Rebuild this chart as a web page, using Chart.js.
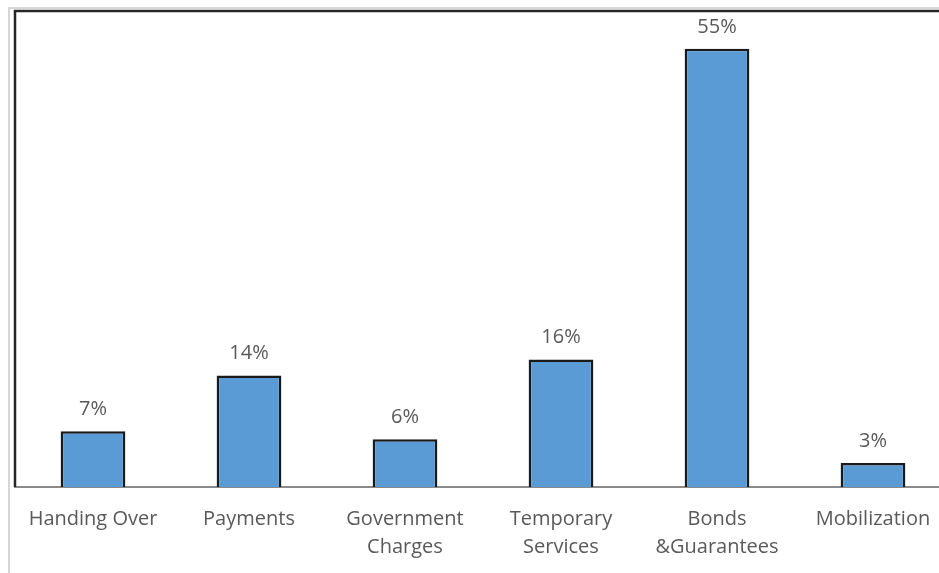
<!DOCTYPE html>
<html>
<head>
<meta charset="utf-8">
<script src="https://cdn.jsdelivr.net/npm/chart.js@4.4.1/dist/chart.umd.min.js"></script>
<style>
  html, body { margin: 0; padding: 0; background: #ffffff; overflow: hidden; }
  #wrap { position: relative; width: 960px; height: 573px; }
</style>
</head>
<body>
<div id="wrap"><canvas id="chart"></canvas></div>
<script>
// Share of each category (percent)
const categories = [
  'Handing Over',
  'Payments',
  ['Government', 'Charges'],
  ['Temporary', 'Services'],
  ['Bonds', '&Guarantees'],
  'Mobilization'
];
const shares = [7, 14, 6, 16, 55, 3];
const valueLabels = ['7%', '14%', '6%', '16%', '55%', '3%'];

const textGray = '#595959';
const fontFamily = '"Open Sans", "Noto Sans", sans-serif';

// Outer chart border and plot frame (top and left edges)
const framePlugin = {
  id: 'frame',
  beforeDraw(chart) {
    const { ctx } = chart;
    ctx.save();
    ctx.fillStyle = '#ffffff';
    ctx.fillRect(0, 0, chart.width, chart.height);
    ctx.restore();
  },
  afterDatasetsDraw(chart) {
    const { ctx, chartArea } = chart;
    ctx.save();
    // light outer border
    ctx.strokeStyle = '#d6d6d6';
    ctx.lineWidth = 2;
    ctx.beginPath();
    ctx.moveTo(9, chart.height);
    ctx.lineTo(9, 8);
    ctx.lineTo(chart.width, 8);
    ctx.stroke();
    // dark plot frame
    ctx.strokeStyle = '#262626';
    ctx.lineWidth = 2.5;
    ctx.beginPath();
    ctx.moveTo(chartArea.left, chartArea.bottom);
    ctx.lineTo(chartArea.left, chartArea.top + 2);
    ctx.lineTo(chart.width, chartArea.top + 2);
    ctx.stroke();
    ctx.restore();
  }
};

// Percentage labels above the bars
const valueLabelPlugin = {
  id: 'valueLabels',
  afterDatasetsDraw(chart) {
    const { ctx } = chart;
    const meta = chart.getDatasetMeta(0);
    ctx.save();
    ctx.fillStyle = textGray;
    ctx.font = '20px ' + fontFamily;
    ctx.textAlign = 'center';
    ctx.textBaseline = 'middle';
    meta.data.forEach((bar, i) => {
      ctx.fillText(valueLabels[i], bar.x, bar.y - 22);
    });
    ctx.restore();
  }
};

new Chart(document.getElementById('chart'), {
  type: 'bar',
  data: {
    labels: categories,
    datasets: [{
      data: shares,
      backgroundColor: '#5B9BD5',
      borderColor: '#1a1a1a',
      borderWidth: 2.5,
      borderSkipped: 'bottom',
      categoryPercentage: 1,
      barPercentage: 0.415
    }]
  },
  options: {
    responsive: true,
    maintainAspectRatio: false,
    animation: false,
    layout: { padding: { left: 15, right: 9, top: 9, bottom: 0 } },
    plugins: {
      legend: { display: false },
      tooltip: { enabled: false }
    },
    scales: {
      x: {
        grid: { display: false, drawTicks: false },
        border: { display: true, color: '#8a8a8a', width: 2 },
        ticks: {
          color: textGray,
          font: { family: fontFamily, size: 20, lineHeight: 1.4 },
          padding: 18,
          maxRotation: 0,
          autoSkip: false
        },
        afterFit(scale) { scale.height = 86; }
      },
      y: {
        display: false,
        min: 0,
        max: 60
      }
    }
  },
  plugins: [framePlugin, valueLabelPlugin]
});
</script>
</body>
</html>
